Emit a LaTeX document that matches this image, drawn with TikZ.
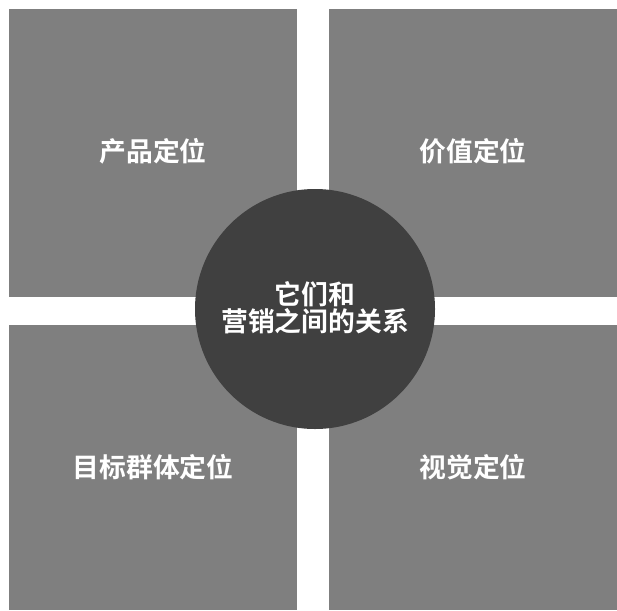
\documentclass[tikz,border=0pt]{standalone}
\usepackage{fontspec}
\newfontfamily\cjk{Noto Sans CJK SC}[BoldFont={Noto Sans CJK SC Bold}]
\begin{document}
\begin{tikzpicture}[x=1pt,y=-1pt,
  quad/.style={fill=quadgray,draw=none},
  lbl/.style={text=white,font=\cjk\bfseries\fontsize{26.8}{27}\selectfont,align=center,inner sep=0pt},
  hub/.style={circle,fill=hubgray,draw=none,minimum size=240pt,inner sep=0pt}]
\definecolor{quadgray}{HTML}{7F7F7F}
\definecolor{hubgray}{HTML}{404040}
\useasboundingbox (0,0) rectangle (617,610);
\fill[white] (0,0) rectangle (617,610);
\fill[quad] (9,9) rectangle (297,297);
\fill[quad] (329,9) rectangle (617,297);
\fill[quad] (9,325) rectangle (297,610);
\fill[quad] (329,325) rectangle (617,610);
\node[lbl] (q1) at (153,151) {产品定位};
\node[lbl] (q2) at (473,151) {价值定位};
\node[lbl] (q3) at (153,467) {目标群体定位};
\node[lbl] (q4) at (473,467) {视觉定位};
\node[hub] (hub) at (315,309) {};
\node[lbl] (hubtext) at (315,308) {它们和\\营销之间的关系};
\end{tikzpicture}
\end{document}
